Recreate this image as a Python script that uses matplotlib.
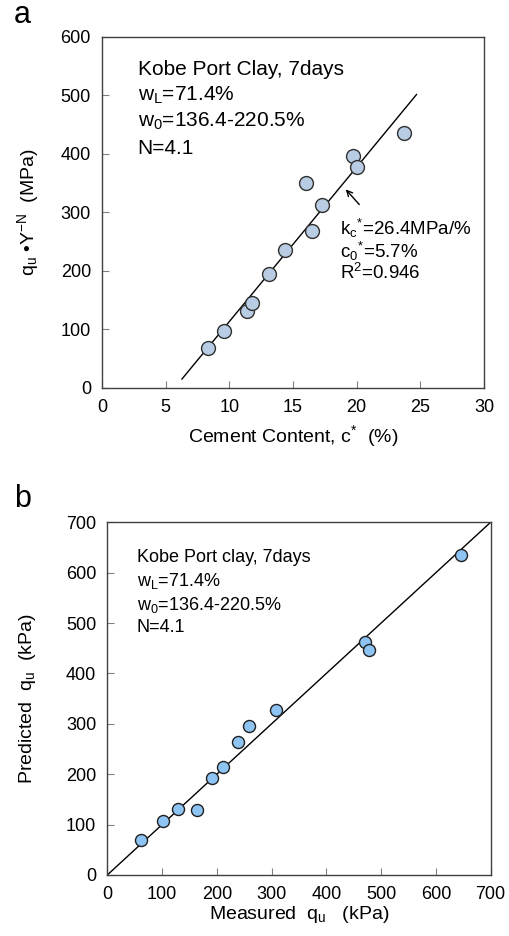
import numpy as np
import matplotlib
matplotlib.use("Agg")
import matplotlib.pyplot as plt

plt.rcParams['font.family'] = ['Liberation Sans', 'DejaVu Sans']
plt.rcParams['mathtext.fontset'] = 'custom'
plt.rcParams['mathtext.rm'] = 'Liberation Sans'
plt.rcParams['mathtext.it'] = 'Liberation Sans'

# panel a: cement content vs normalised strength
cement = [8.3, 9.6, 11.4, 11.8, 13.1, 14.4, 16.0, 16.5, 17.3, 19.7, 20.0, 23.7]
qu_norm = [68, 97, 132, 145, 194, 235, 351, 269, 312, 397, 378, 436]
k_c = 26.4
c_0 = 5.7
fit_x = [6.28, 24.7]

# panel b: measured vs predicted qu
measured = [62, 101, 129, 164, 192, 211, 239, 258, 308, 471, 477, 646]
predicted = [70, 108, 131, 128, 192, 215, 263, 296, 327, 463, 446, 636]

fig = plt.figure(figsize=(5.1, 9.36), dpi=100)

spine_col = '#404040'
tick_col = '#808080'


def style(ax):
    for s in ax.spines.values():
        s.set_color(spine_col)
        s.set_linewidth(1.0)
    ax.tick_params(direction='in', length=5, width=0.8, color=tick_col,
                   labelsize=13, pad=8)


# ---- panel a
ax1 = fig.add_axes([0.2, 0.5855, 0.749, 0.375])
fx = np.array(fit_x)
ax1.plot(fx, k_c * (fx - c_0), color='black', lw=1.0, zorder=2)
ax1.scatter(cement, qu_norm, s=100, facecolor='#b8cce4', edgecolor='#303030',
            linewidth=1.0, zorder=3)
ax1.set_xlim(0, 30)
ax1.set_ylim(0, 600)
ax1.set_xticks(range(0, 31, 5))
ax1.set_yticks(range(0, 601, 100))
style(ax1)
ax1.set_xlabel(r'Cement Content, c$^{*}$  (%)', fontsize=14, labelpad=5)
ax1.set_ylabel(r'q$_\mathregular{u}$ •Y$^\mathregular{-N}$  (MPa)', fontsize=14, labelpad=14)
ax1.text(2.8, 545, 'Kobe Port Clay, 7days', fontsize=15, va='center')
ax1.text(2.8, 500, r'w$_\mathregular{L}$=71.4%', fontsize=15, va='center')
ax1.text(2.8, 455, r'w$_\mathregular{0}$=136.4-220.5%', fontsize=15, va='center')
ax1.text(2.8, 410, 'N=4.1', fontsize=15, va='center')
ax1.annotate('', xy=(19.0, 343), xytext=(20.35, 310),
             arrowprops=dict(arrowstyle='->', color='black', lw=1.0))
ax1.text(18.7, 272, r'k$_\mathregular{c}$$^{*}$=26.4MPa/%', fontsize=13.5, va='center')
ax1.text(18.7, 233, r'c$_\mathregular{0}$$^{*}$=5.7%', fontsize=13.5, va='center')
ax1.text(18.7, 196, r'R$^\mathregular{2}$=0.946', fontsize=13.5, va='center')
fig.text(0.027, 0.9754, 'a', fontsize=22, va='baseline')

# ---- panel b
ax2 = fig.add_axes([0.2104, 0.0652, 0.7516, 0.3768])
ax2.plot([0, 700], [0, 700], color='black', lw=1.0, zorder=2)
ax2.scatter(measured, predicted, s=75, facecolor='#8ec4f4', edgecolor='#202020',
            linewidth=1.0, zorder=3)
ax2.set_xlim(0, 700)
ax2.set_ylim(0, 700)
ax2.set_xticks(range(0, 701, 100))
ax2.set_yticks(range(0, 701, 100))
style(ax2)
ax2.set_xlabel(r'Measured  q$_\mathregular{u}$   (kPa)', fontsize=14, labelpad=1)
ax2.set_ylabel(r'Predicted  q$_\mathregular{u}$  (kPa)', fontsize=14, labelpad=20)
ax2.text(54, 631, 'Kobe Port clay, 7days', fontsize=13, va='center')
ax2.text(54, 584, r'w$_\mathregular{L}$=71.4%', fontsize=13, va='center')
ax2.text(54, 536, r'w$_\mathregular{0}$=136.4-220.5%', fontsize=13, va='center')
ax2.text(54, 491, 'N=4.1', fontsize=13, va='center')
fig.text(0.027, 0.4583, 'b', fontsize=22, va='baseline')

fig.savefig('out.png', dpi=100)
